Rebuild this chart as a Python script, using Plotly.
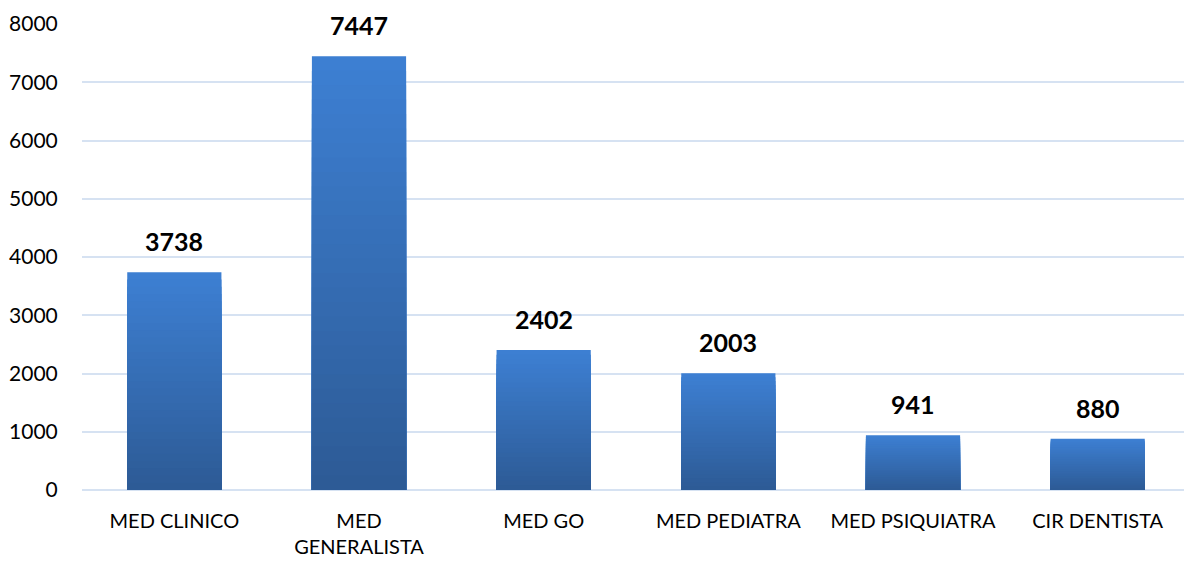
import plotly.graph_objects as go

categories = ["MED CLINICO", "MED<br>GENERALISTA", "MED GO", "MED PEDIATRA", "MED PSIQUIATRA", "CIR DENTISTA"]
values = [3738, 7447, 2402, 2003, 941, 880]
y_ticks = [0, 1000, 2000, 3000, 4000, 5000, 6000, 7000, 8000]

top_rgb = (61, 127, 210)
bot_rgb = (45, 91, 150)
n_layers = 30

fig = go.Figure()
for k in range(n_layers):
    frac = 1 - k / n_layers
    t = k / (n_layers - 1)
    c = tuple(round(top_rgb[i] + (bot_rgb[i] - top_rgb[i]) * t) for i in range(3))
    fig.add_trace(go.Bar(
        x=categories, y=[v * frac for v in values],
        marker=dict(color="rgb(%d,%d,%d)" % c, line=dict(width=0)),
        hoverinfo="skip", showlegend=False,
    ))

for cat, v in zip(categories, values):
    fig.add_annotation(x=cat, y=v, text="<b>%d</b>" % v, showarrow=False,
                       yanchor="bottom", yshift=14,
                       font=dict(family="Lato", size=25, color="black"))

fig.update_layout(
    barmode="overlay", bargap=0.49,
    width=1184, height=553,
    margin=dict(l=74, r=2, t=16, b=71),
    plot_bgcolor="white", paper_bgcolor="white",
    font=dict(family="Lato", size=20, color="black"),
)
fig.update_xaxes(showgrid=False, showline=False, ticks="outside", ticklen=13,
                 tickcolor="rgba(0,0,0,0)", tickfont=dict(size=20), automargin=False)
fig.update_yaxes(range=[0, 8000], tickvals=y_ticks, showgrid=True,
                 gridcolor="#d6e2f2", gridwidth=1.5, zeroline=True,
                 zerolinecolor="#d6e2f2", zerolinewidth=1.5,
                 ticks="outside", ticklen=19, tickcolor="rgba(0,0,0,0)",
                 tickfont=dict(size=21), automargin=False)

fig.write_html("out.html")
